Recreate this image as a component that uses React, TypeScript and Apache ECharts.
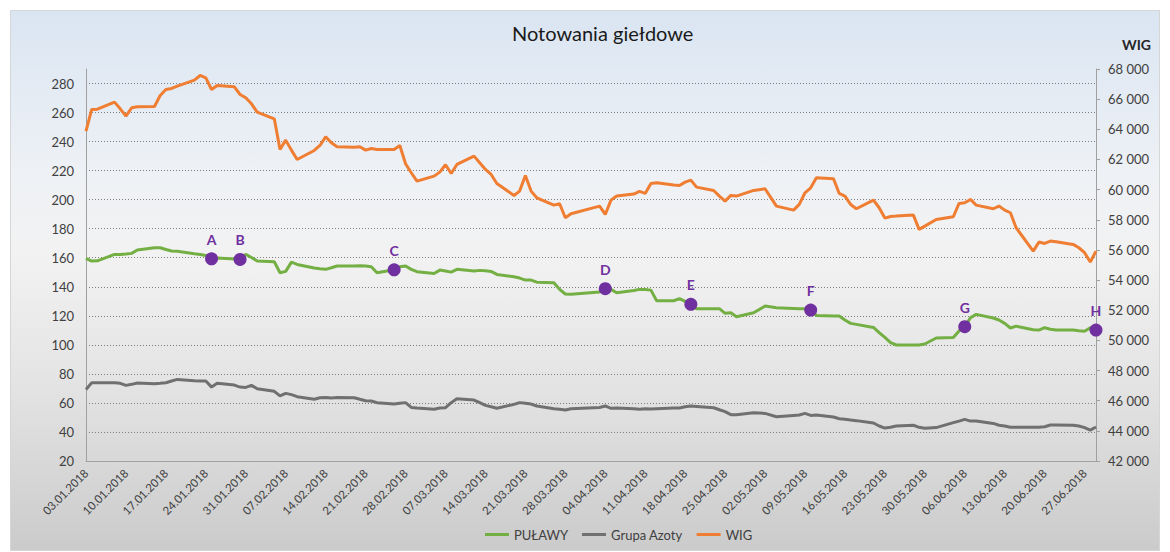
import React, { useEffect, useRef } from "react";
import * as echarts from "echarts";

// Trading days (DD.MM, year 2018)
const DATES: string[] = [
  "03.01","04.01","05.01","08.01","09.01","10.01","11.01","12.01","15.01","16.01","17.01","18.01","19.01","22.01","23.01","24.01","25.01","26.01","29.01","30.01","31.01",
  "01.02","02.02","05.02","06.02","07.02","08.02","09.02","12.02","13.02","14.02","15.02","16.02","19.02","20.02","21.02","22.02","23.02","26.02","27.02","28.02",
  "01.03","02.03","05.03","06.03","07.03","08.03","09.03","12.03","13.03","14.03","15.03","16.03","19.03","20.03","21.03","22.03","23.03","26.03","27.03","28.03","29.03",
  "03.04","04.04","05.04","06.04","09.04","10.04","11.04","12.04","13.04","16.04","17.04","18.04","19.04","20.04","23.04","24.04","25.04","26.04","27.04","30.04",
  "02.05","04.05","07.05","08.05","09.05","10.05","11.05","14.05","15.05","16.05","17.05","18.05","21.05","22.05","23.05","24.05","25.05","28.05","29.05","30.05",
  "01.06","04.06","05.06","06.06","07.06","08.06","11.06","12.06","13.06","14.06","15.06","18.06","19.06","20.06","21.06","22.06","25.06","26.06","27.06","28.06","29.06",
];

const PULAWY: number[] = [
  159.5,157.7,157.9,162.3,162.3,162.5,163.0,165.3,166.9,166.9,165.7,164.6,164.4,162.7,162.3,161.6,159.3,159.8,159.1,158.8,162.3,
  160.2,157.7,157.2,149.7,150.6,157.0,155.4,152.9,152.4,152.0,153.1,154.3,154.3,154.5,154.3,153.8,149.7,151.7,153.8,154.3,
  152.0,150.4,149.2,151.5,150.8,150.1,152.0,150.8,151.3,151.0,150.6,148.5,146.9,146.0,144.6,144.6,143.2,142.8,138.2,135.0,134.8,
  136.4,138.7,138.2,135.9,137.5,138.2,138.2,137.7,130.4,130.4,131.8,129.9,127.9,124.9,124.9,124.9,121.7,122.1,119.4,122.1,
  126.7,125.6,125.1,124.9,124.9,124.0,120.3,119.8,119.8,117.1,114.8,114.1,112.0,108.4,105.1,101.5,99.9,99.9,99.9,100.6,
  104.7,105.0,109.5,112.5,118.7,121.0,118.5,117.1,114.8,111.6,112.9,110.4,110.2,111.8,110.7,110.2,110.2,109.7,109.3,111.8,110.2,
];

const AZOTY: number[] = [
  69.3,73.9,73.9,73.9,73.5,72.1,72.8,73.7,73.2,73.5,73.9,75.1,76.2,75.3,75.1,75.1,70.9,73.5,72.3,70.9,70.7,
  72.1,69.8,68.0,64.8,66.6,65.7,64.3,62.5,63.6,63.8,63.4,63.8,63.6,62.5,61.5,61.3,60.2,59.2,59.7,60.2,
  56.9,56.5,55.6,56.5,56.7,60.2,62.9,62.0,60.2,58.3,57.4,56.3,59.0,60.2,59.7,59.2,57.9,56.0,55.6,55.1,56.0,
  56.9,57.9,56.3,56.5,56.0,55.6,56.0,55.8,56.0,56.5,56.5,57.4,57.9,57.6,56.7,55.3,54.0,51.9,51.9,53.3,
  52.8,50.5,51.4,51.7,52.8,51.4,51.7,50.3,49.1,48.7,48.2,47.8,46.2,44.1,42.7,43.2,44.1,44.6,43.2,42.5,
  43.0,46.4,47.5,48.7,47.5,47.5,45.9,44.6,44.1,43.2,43.2,43.2,43.2,43.6,44.8,44.8,44.6,44.1,43.0,41.3,43.4,
];

const WIG: number[] = [
  63879,65316,65338,65802,65360,64874,65426,65492,65514,66244,66642,66708,66863,67260,67570,67415,66642,66907,66819,66310,66089,
  65691,65139,64697,62664,63282,62619,62000,62597,62929,63503,63106,62840,62818,62840,62620,62730,62664,62664,62929,61713,
  61117,60564,60896,61161,61647,61072,61669,62222,61780,61338,61006,60409,59614,59901,60940,59901,59459,58973,59061,58133,58398,
  58907,58354,59304,59570,59702,59879,59746,60409,60454,60299,60277,60498,60630,60166,59945,59570,59238,59614,59570,59945,
  60056,58907,58641,59017,59790,60122,60785,60719,59746,59570,59017,58730,59304,58796,58111,58221,58243,58310,57360,57580,
  58022,58199,59083,59128,59349,58973,58730,58907,58641,58465,57470,55923,56520,56431,56586,56542,56365,56144,55813,55194,55923,
];

const MARK_LABELS: string[] = ["A", "B", "C", "D", "E", "F", "G", "H"];
const MARK_DATES: string[] = ["25.01", "30.01", "26.02", "04.04", "19.04", "10.05", "06.06", "29.06"];
const MARK_VALUES: number[] = [159.3, 158.8, 151.7, 138.7, 127.9, 124.0, 112.5, 110.2];

const WEEK_LABELS: string[] = [
  "03.01.2018","10.01.2018","17.01.2018","24.01.2018","31.01.2018","07.02.2018","14.02.2018","21.02.2018","28.02.2018",
  "07.03.2018","14.03.2018","21.03.2018","28.03.2018","04.04.2018","11.04.2018","18.04.2018","25.04.2018","02.05.2018",
  "09.05.2018","16.05.2018","23.05.2018","30.05.2018","06.06.2018","13.06.2018","20.06.2018","27.06.2018",
];

const SERIES_NAMES = ["PUŁAWY", "Grupa Azoty", "WIG"];
const COLORS = ["#74af44", "#707070", "#ef7d32"];
const MARK_COLOR = "#7030a0";

const START = Date.UTC(2018, 0, 3);
const X_MAX = 177;

function dayIndex(ddmm: string): number {
  const [d, m] = ddmm.split(".").map(Number);
  return Math.round((Date.UTC(2018, m - 1, d) - START) / 86400000);
}

function fmtThousands(v: number): string {
  return String(v).replace(/\B(?=(\d{3})+(?!\d))/g, " ");
}

export default function App() {
  const ref = useRef<HTMLDivElement>(null);

  useEffect(() => {
    if (!ref.current) return;
    const chart = echarts.init(ref.current, null, { renderer: "svg" });
    const xs = DATES.map(dayIndex);
    const font = "Lato, 'Open Sans', sans-serif";

    const option: any = {
      animation: false,
      backgroundColor: "transparent",
      textStyle: { fontFamily: font },
      title: {
        text: "Notowania giełdowe",
        left: 507,
        top: 18,
        textStyle: { fontSize: 20, fontWeight: "normal", color: "#1a1a1a", fontFamily: font },
      },
      legend: {
        data: SERIES_NAMES,
        left: 480,
        bottom: 6,
        icon: "rect",
        itemWidth: 24,
        itemHeight: 3,
        itemGap: 14,
        textStyle: { fontSize: 13, color: "#404040", fontFamily: font },
      },
      grid: { left: 86, right: 74, top: 69, bottom: 91, outerBoundsMode: "none" },
      xAxis: {
        type: "value",
        min: 0,
        max: X_MAX,
        interval: 7,
        axisLine: { show: true, lineStyle: { color: "#a0a0a0", width: 1 } },
        axisTick: { show: false },
        splitLine: { show: false },
        axisLabel: {
          rotate: 45,
          fontSize: 11.5,
          color: "#404040",
          margin: 10,
          showMaxLabel: false,
          fontFamily: font,
          formatter: (v: number) => {
            const i = Math.round(v / 7);
            return v % 7 === 0 && WEEK_LABELS[i] ? WEEK_LABELS[i] : "";
          },
        },
      },
      yAxis: [
        {
          type: "value",
          position: "left",
          min: 20,
          max: 290,
          interval: 20,
          axisLine: { show: true, lineStyle: { color: "#a0a0a0", width: 1 } },
          axisTick: { show: false },
          axisLabel: { fontSize: 13, color: "#404040", margin: 12, showMaxLabel: false, fontFamily: font },
          splitLine: {
            show: true,
            showMinLine: false,
            showMaxLine: false,
            lineStyle: { type: [1, 2], color: "#7f7f7f", width: 1 },
          },
        },
        {
          type: "value",
          position: "right",
          min: 42000,
          max: 68000,
          interval: 2000,
          name: "WIG",
          nameLocation: "end",
          nameGap: 18,
          nameTextStyle: {
            fontSize: 14,
            fontWeight: "bold",
            color: "#262626",
            align: "left",
            padding: [0, 0, 0, 26],
            fontFamily: font,
          },
          axisLine: { show: true, lineStyle: { color: "#a0a0a0", width: 1 } },
          axisTick: { show: true, inside: false, length: 4, lineStyle: { color: "#a0a0a0" } },
          axisLabel: { fontSize: 13, color: "#404040", margin: 12, formatter: fmtThousands, fontFamily: font },
          splitLine: { show: false },
        },
      ],
      series: [
        {
          name: SERIES_NAMES[0],
          type: "line",
          yAxisIndex: 0,
          symbol: "none",
          data: xs.map((x, i) => [x, PULAWY[i]]),
          lineStyle: { color: COLORS[0], width: 3 },
          itemStyle: { color: COLORS[0] },
          z: 3,
        },
        {
          name: SERIES_NAMES[1],
          type: "line",
          yAxisIndex: 0,
          symbol: "none",
          data: xs.map((x, i) => [x, AZOTY[i]]),
          lineStyle: { color: COLORS[1], width: 3 },
          itemStyle: { color: COLORS[1] },
          z: 3,
        },
        {
          name: SERIES_NAMES[2],
          type: "line",
          yAxisIndex: 1,
          symbol: "none",
          data: xs.map((x, i) => [x, WIG[i]]),
          lineStyle: { color: COLORS[2], width: 3 },
          itemStyle: { color: COLORS[2] },
          z: 3,
        },
        {
          name: "markers",
          type: "scatter",
          yAxisIndex: 0,
          symbolSize: 13,
          z: 5,
          itemStyle: { color: MARK_COLOR, opacity: 1 },
          label: {
            show: true,
            position: "top",
            distance: 6,
            formatter: (p: any) => p.name,
            color: MARK_COLOR,
            fontWeight: "bold",
            fontSize: 14,
            fontFamily: font,
          },
          data: MARK_LABELS.map((n, i) => ({ name: n, value: [dayIndex(MARK_DATES[i]), MARK_VALUES[i]] })),
        },
      ],
    };

    chart.setOption(option);
    return () => chart.dispose();
  }, []);

  return (
    <div style={{ position: "absolute", left: 0, top: 0, width: 1170, height: 552, background: "#ffffff", overflow: "hidden" }}>
      <div
        style={{
          position: "absolute",
          left: 10,
          top: 10,
          width: 1150,
          height: 541,
          boxSizing: "border-box",
          border: "1px solid #d6d6d6",
          background: "linear-gradient(to bottom, #dae5f2 0%, #eef1f5 30%, #f2f2f2 45%, #e3e3e3 70%, #cbcbcb 100%)",
        }}
      />
      <div ref={ref} style={{ position: "absolute", left: 0, top: 0, width: 1170, height: 552 }} />
    </div>
  );
}
